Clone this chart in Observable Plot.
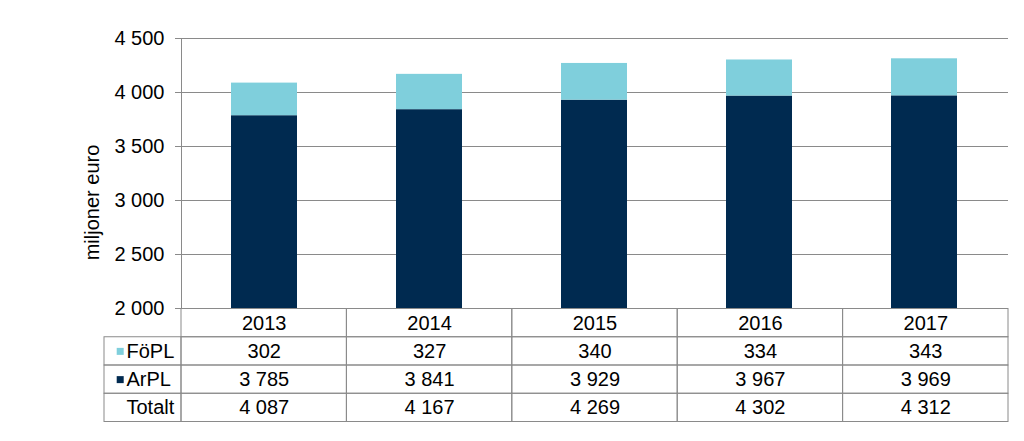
<!DOCTYPE html>
<html><head><meta charset="utf-8">
<script src="https://cdn.jsdelivr.net/npm/d3@7"></script>
<script src="https://cdn.jsdelivr.net/npm/@observablehq/plot@0.6"></script>
<style>
html,body{margin:0;padding:0;background:#fff;}
#chart svg{display:block;overflow:visible;position:relative;z-index:2;background:transparent !important;}
#table svg{display:block;margin-top:-1px;position:relative;z-index:1;background:transparent !important;}
</style></head><body><div id="chart"></div><div id="table"></div>
<script>
const years = ["2013", "2014", "2015", "2016", "2017"];
const foPL = [302, 327, 340, 334, 343];
const arPL = [3785, 3841, 3929, 3967, 3969];
const totalt = [4087, 4167, 4269, 4302, 4312];
const yTicks = [2000, 2500, 3000, 3500, 4000, 4500];
const seriesNames = ["ArPL", "FöPL"];
const rowLabels = ["FöPL", "ArPL", "Totalt"];
const yLabel = "miljoner euro";

const seriesColors = ["#002a50", "#7fcfdc"];
const gridColor = "#8a8a8a";
const font = "'Liberation Sans', Arial, sans-serif";
const fmt = d3.formatLocale({thousands: " ", grouping: [3], decimal: ","}).format(",d");

// stacked bars (base at axis minimum)
const bars = [];
years.forEach((y, i) => {
  bars.push({year: y, series: "ArPL", y1: yTicks[0], y2: arPL[i]});
  bars.push({year: y, series: "FöPL", y1: arPL[i], y2: arPL[i] + foPL[i]});
});

const chart = Plot.plot({
  width: 1024, height: 309,
  marginTop: 38, marginBottom: 1, marginLeft: 181, marginRight: 16,
  style: {fontFamily: font, fontSize: "20px", color: "#000", background: "transparent", overflow: "visible"},
  x: {domain: years, paddingInner: 0.6, paddingOuter: 0.3, axis: null},
  y: {domain: [yTicks[0], yTicks[yTicks.length - 1]]},
  color: {domain: seriesNames, range: seriesColors},
  marks: [
    Plot.ruleY(yTicks, {stroke: gridColor, strokeWidth: 1}),
    Plot.axisY({ticks: yTicks, tickSize: 6, tickPadding: 11, tickFormat: fmt, stroke: gridColor, fill: "#000", label: null}),
    Plot.frame({anchor: "left", stroke: gridColor}),
    Plot.barY(bars, {x: "year", y1: "y1", y2: "y2", fill: "series"}),
    Plot.text([yLabel], {frameAnchor: "left", textAnchor: "middle", rotate: -90, dx: -89, dy: 29, fill: "#000"})
  ]
});
document.getElementById("chart").appendChild(chart);

// data table below the chart
const LABEL_W = 77 / 165.4; // width of label column relative to a year column
const tableRows = [years, foPL.map(fmt), arPL.map(fmt), totalt.map(fmt)];
const cells = [];
tableRows.forEach((r, ri) => r.forEach((t, ci) => cells.push({row: ri, col: ci, text: t})));
const labelCells = rowLabels.map((l, i) => ({row: i + 1, label: l}));
const swatches = [
  {row: 1, series: "FöPL"},
  {row: 2, series: "ArPL"}
];

const table = Plot.plot({
  width: 1024, height: 133,
  marginTop: 0, marginBottom: 19, marginLeft: 104, marginRight: 16,
  style: {fontFamily: font, fontSize: "20px", color: "#000", background: "transparent"},
  x: {type: "linear", domain: [-LABEL_W, years.length], range: [104, 1008], axis: null},
  y: {type: "linear", domain: [0, tableRows.length], range: [0.5, 113.5], axis: null},
  color: {domain: seriesNames, range: seriesColors},
  marks: [
    Plot.rect(cells, {x1: d => d.col, x2: d => d.col + 1, y1: d => d.row, y2: d => d.row + 1, stroke: gridColor, fill: "none"}),
    Plot.rect(labelCells, {x1: -LABEL_W, x2: 0, y1: d => d.row, y2: d => d.row + 1, stroke: gridColor, fill: "none"}),
    Plot.text(cells, {x: d => d.col + 0.5, y: d => d.row + 0.5, text: "text", fill: "#000"}),
    Plot.text(labelCells, {x: -LABEL_W, y: d => d.row + 0.5, text: "label", dx: 22, textAnchor: "start", fill: "#000"}),
    Plot.dot(swatches, {x: -LABEL_W, y: d => d.row + 0.5, dx: 15.7, symbol: "square", r: 3.95, fill: "series", stroke: null})
  ]
});
document.getElementById("table").appendChild(table);
</script></body></html>
